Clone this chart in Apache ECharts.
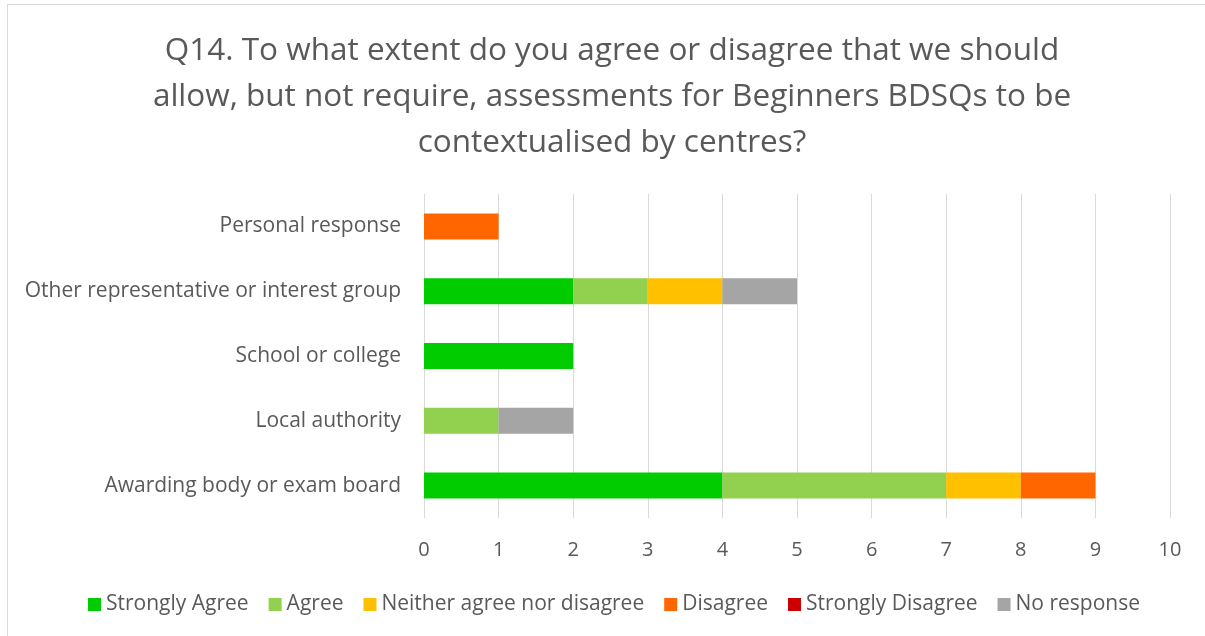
<!DOCTYPE html>
<html>
<head>
<meta charset="utf-8">
<script src="https://cdn.jsdelivr.net/npm/echarts@6/dist/echarts.min.js"></script>
<style>
  html, body { margin: 0; padding: 0; background: #fff; }
  #chart { width: 1205px; height: 636px; }
</style>
</head>
<body>
<div id="chart"></div>
<script>
// Respondent types, listed bottom to top
const categories = [
  'Awarding body or exam board',
  'Local authority',
  'School or college',
  'Other representative or interest group',
  'Personal response'
];
const seriesNames = ['Strongly Agree', 'Agree', 'Neither agree nor disagree', 'Disagree', 'Strongly Disagree', 'No response'];
const stronglyAgree = [4, 0, 2, 2, 0];
const agree = [3, 1, 0, 1, 0];
const neither = [1, 0, 0, 1, 0];
const disagree = [1, 0, 0, 0, 1];
const stronglyDisagree = [0, 0, 0, 0, 0];
const noResponse = [0, 1, 0, 1, 0];
const colors = ['#00CC00', '#92D050', '#FFC000', '#FF6600', '#CC0000', '#A5A5A5'];
const xTicks = [0, 10, 1]; // min, max, interval

const FONT = '"Open Sans", sans-serif';
const TXT = '#595959';

const values = [stronglyAgree, agree, neither, disagree, stronglyDisagree, noResponse];

const chart = echarts.init(document.getElementById('chart'));
chart.setOption({
  animation: false,
  backgroundColor: '#fff',
  textStyle: { fontFamily: FONT },
  title: {
    text: 'Q14. To what extent do you agree or disagree that we should\nallow, but not require, assessments for Beginners BDSQs to be\ncontextualised by centres?',
    left: 607,
    textAlign: 'center',
    top: 23,
    textStyle: { fontFamily: FONT, fontSize: 31.5, fontWeight: 'normal', color: TXT, lineHeight: 46 }
  },
  graphic: [
    { type: 'line', shape: { x1: 7, y1: 4.5, x2: 1205, y2: 4.5 }, style: { stroke: '#d9d9d9', lineWidth: 1 } },
    { type: 'line', shape: { x1: 7.5, y1: 4, x2: 7.5, y2: 636 }, style: { stroke: '#d9d9d9', lineWidth: 1 } }
  ],
  legend: {
    bottom: 16,
    left: 83,
    itemWidth: 13,
    itemHeight: 13,
    itemGap: 20,
    icon: 'rect',
    textStyle: { fontFamily: FONT, fontSize: 21, color: TXT },
    data: seriesNames
  },
  grid: { left: 424, right: 35, top: 194, bottom: 118, containLabel: false },
  xAxis: {
    type: 'value',
    min: xTicks[0],
    max: xTicks[1],
    interval: xTicks[2],
    axisLine: { show: false },
    axisTick: { show: false },
    splitLine: { show: true, lineStyle: { color: '#d9d9d9', width: 1 } },
    axisLabel: { margin: 22, fontFamily: FONT, fontSize: 20, color: TXT }
  },
  yAxis: {
    type: 'category',
    data: categories,
    axisLine: { show: false },
    axisTick: { show: false },
    axisLabel: { margin: 23, fontFamily: FONT, fontSize: 21, color: TXT }
  },
  series: seriesNames.map((name, i) => ({
    name,
    type: 'bar',
    stack: 'total',
    barWidth: 26,
    data: values[i],
    itemStyle: { color: colors[i] },
    emphasis: { disabled: true }
  }))
});
</script>
</body>
</html>
